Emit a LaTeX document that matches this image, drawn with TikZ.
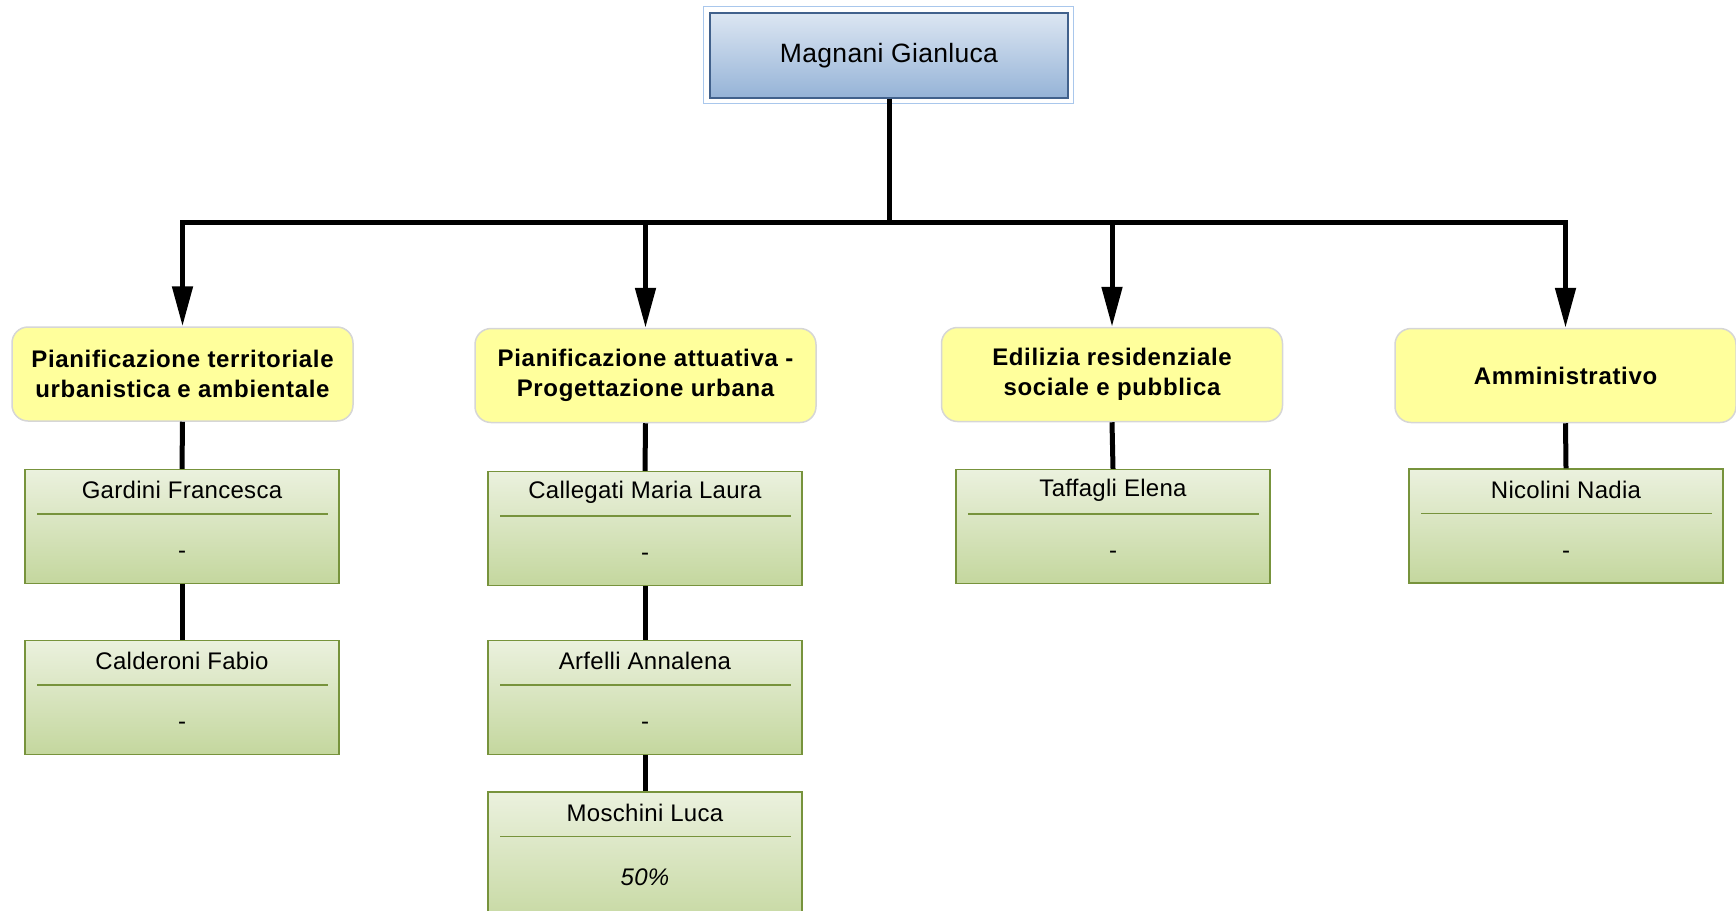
\documentclass[tikz,border=0pt]{standalone}
\usepackage{fontspec}
\setmainfont{Liberation Sans}[LetterSpace=1.2,BoldFeatures={LetterSpace=2.8}]
\usetikzlibrary{arrows.meta}
\definecolor{headtop}{HTML}{DCE6F2}
\definecolor{headbot}{HTML}{95B3D7}
\definecolor{headborder}{HTML}{41618C}
\definecolor{headframe}{HTML}{A9C7EC}
\definecolor{unitfill}{HTML}{FFFF9C}
\definecolor{unitborder}{HTML}{D6D6D6}
\definecolor{greentop}{HTML}{EBF1DE}
\definecolor{greenbot}{HTML}{C4D79E}
\definecolor{greenborder}{HTML}{77933C}
\tikzset{
  headbox/.style={draw=headborder, line width=1.5pt, top color=headtop, bottom color=headbot,
    minimum width=358pt, minimum height=85pt, inner sep=0pt, font=\fontsize{26.5}{30}\selectfont},
  headframe/.style={draw=headframe, line width=1pt},
  unitbox/.style={draw=unitborder, line width=1.5pt, fill=unitfill, rounded corners=16pt,
    minimum width=341pt, minimum height=94pt, inner sep=0pt, align=center,
    font=\bfseries\fontsize{24}{30}\selectfont},
  personbox/.style={draw=greenborder, line width=1.3pt, top color=greentop, bottom color=greenbot,
    minimum width=314pt, minimum height=114pt, inner sep=0pt},
  nametext/.style={inner sep=0pt, font=\fontsize{24}{28}\selectfont},
  valtext/.style={inner sep=0pt, font=\fontsize{24}{28}\selectfont},
  sepline/.style={draw=greenborder, line width=1.3pt},
  conn/.style={line width=5pt, black},
  arrowconn/.style={conn, -{Triangle[length=40pt,width=20pt]}},
}
\newcommand{\personnode}[5][]{%
  \node[personbox,#1] (#2) at (#3) {};
  \node[nametext] (#2n) at ([yshift=-21.5pt]#2.north) {#4};
  \draw[sepline] ([xshift=13pt,yshift=-45pt]#2.north west) -- ([xshift=-12pt,yshift=-45pt]#2.north east);
  \node[valtext] (#2v) at ([yshift=-86pt]#2.north) {#5};
}
\begin{document}
\begin{tikzpicture}[x=1pt,y=-1pt]
\useasboundingbox (0,0) rectangle (1736,910);
% head
\node[headbox] (head) at (889,55.5) {Magnani Gianluca};
\draw[headframe] ([shift={(-5.5pt,-4.5pt)}]head.south west) rectangle ([shift={(4.5pt,6pt)}]head.north east);
\coordinate (bus) at (889,222);
% units
\node[unitbox] (u1) at (182.5,374) {Pianificazione territoriale\\urbanistica e ambientale};
\node[unitbox] (u2) at (645.5,375.5) {Pianificazione attuativa -\\Progettazione urbana};
\node[unitbox] (u3) at (1112,374.5) {Edilizia residenziale\\sociale e pubblica};
\node[unitbox] (u4) at (1565.5,375.5) {Amministrativo};
% arrows
\foreach \u in {u1,u2,u3,u4}{
  \draw[arrowconn] (head.south) -- (head.south |- bus) -| (\u.north);
}
% people
\personnode{p11}{182,526.5}{Gardini Francesca}{-}
\personnode{p12}{182,697.5}{Calderoni Fabio}{-}
\personnode{p21}{645,528.5}{Callegati Maria Laura}{-}
\personnode{p22}{645,697.5}{Arfelli Annalena}{-}
\personnode[minimum height=140pt]{p23}{645,862}{Moschini Luca}{\itshape 50\%}
\personnode{p31}{1113,526.5}{Taffagli Elena}{-}
\personnode{p41}{1566,526}{Nicolini Nadia}{-}
% connectors
\draw[conn] (u1.south) -- (p11.north);
\draw[conn] (p11.south) -- (p12.north);
\draw[conn] (u2.south) -- (p21.north);
\draw[conn] (p21.south) -- (p22.north);
\draw[conn] (p22.south) -- (p23.north);
\draw[conn] (u3.south) -- (p31.north);
\draw[conn] (u4.south) -- (p41.north);
\end{tikzpicture}
\end{document}
